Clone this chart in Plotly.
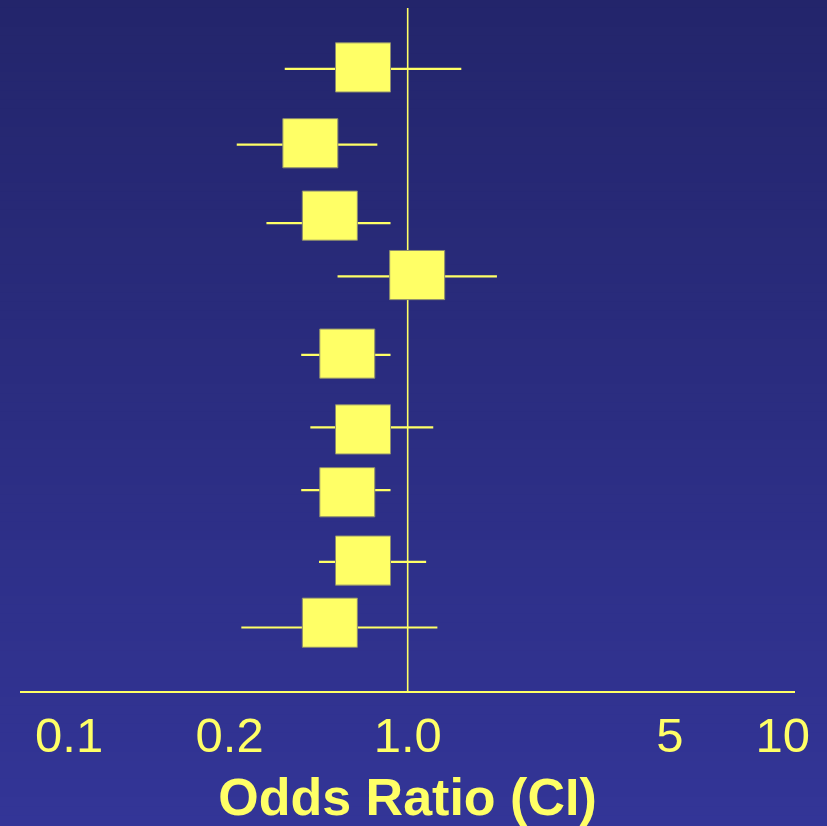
import plotly.graph_objects as go
import numpy as np

# ---- data ----
odds_ratio = [0.76, 0.55, 0.62, 1.06, 0.69, 0.76, 0.69, 0.76, 0.62]
ci_low     = [0.47, 0.35, 0.42, 0.65, 0.52, 0.55, 0.52, 0.58, 0.36]
ci_high    = [1.39, 0.83, 0.90, 1.73, 0.90, 1.17, 0.90, 1.12, 1.20]
row_y      = [9.11, 8.00, 6.85, 6.07, 4.92, 3.86, 2.94, 1.89, 0.93]   # CI line row positions
box_y      = [9.13, 8.02, 6.96, 6.09, 4.94, 3.83, 2.91, 1.91, 1.00]   # box centre row positions
tick_text  = ["0.1", "0.2", "1.0", "5", "10"]
tick_at    = [0.125, 0.335, 1.0, 5.0, 10.0]
null_value = 1.0

# ---- styles ----
YELLOW = "#FFFF66"
BOX_HALF_W = 1.184     # multiplicative half-width on log scale
BOX_HALF_H = 0.36      # half-height in row units
TOP = (35, 37, 107)
BOT = (51, 53, 151)

W, H = 827, 826
ML, MR, MT, MB = 20, 32, 8, 135
plot_h = H - MT - MB

fig = go.Figure()

# CI lines
cx, cy = [], []
for lo, hi, y in zip(ci_low, ci_high, row_y):
    cx += [lo, hi, None]
    cy += [y, y, None]
fig.add_trace(go.Scatter(x=cx, y=cy, mode="lines",
                         line=dict(color=YELLOW, width=2.2), hoverinfo="skip"))

# null line
fig.add_trace(go.Scatter(x=[null_value, null_value], y=[0, 10], mode="lines",
                         line=dict(color=YELLOW, width=1.6), hoverinfo="skip"))

# boxes
bx, by = [], []
for orv, y in zip(odds_ratio, box_y):
    x0, x1 = orv / BOX_HALF_W, orv * BOX_HALF_W
    y0, y1 = y - BOX_HALF_H, y + BOX_HALF_H
    bx += [x0, x1, x1, x0, x0, None]
    by += [y0, y0, y1, y1, y0, None]
fig.add_trace(go.Scatter(x=bx, y=by, mode="lines", fill="toself",
                         fillcolor=YELLOW, line=dict(color="#8C8C6E", width=1),
                         hoverinfo="skip"))

# background gradient stripes (paper coords extended to full figure)
n = 90
y_bot = -MB / plot_h
y_top = 1 + MT / plot_h
shapes = []
for i in range(n):
    f0 = i / n
    f1 = (i + 1) / n
    t = (f0 + f1) / 2  # 0 at top -> 1 at bottom
    c = tuple(int(round(TOP[k] + (BOT[k] - TOP[k]) * t)) for k in range(3))
    ya = y_top - (y_top - y_bot) * f0
    yb = y_top - (y_top - y_bot) * f1
    shapes.append(dict(type="rect", xref="paper", yref="paper",
                       x0=-ML / (W - ML - MR) - 0.01, x1=1 + MR / (W - ML - MR) + 0.01,
                       y0=yb - 0.002, y1=ya + 0.002,
                       fillcolor="rgb(%d,%d,%d)" % c, line=dict(width=0),
                       layer="below"))

fig.update_layout(
    width=W, height=H,
    margin=dict(l=ML, r=MR, t=MT, b=MB),
    paper_bgcolor="rgb(43,45,129)",
    plot_bgcolor="rgba(0,0,0,0)",
    showlegend=False,
    shapes=shapes,
    xaxis=dict(type="log", range=[-1.034, 1.033],
               showgrid=False, zeroline=False,
               showline=True, linecolor=YELLOW, linewidth=2,
               ticks="", tickvals=tick_at, ticktext=tick_text,
               tickfont=dict(family="Liberation Sans, Arial", size=49, color=YELLOW),
               title=dict(text="<b>Odds Ratio (CI)</b>", standoff=20,
                          font=dict(family="Liberation Sans, Arial", size=52, color=YELLOW)),
               fixedrange=True),
    yaxis=dict(range=[0, 10], visible=False, fixedrange=True),
)

fig.write_html("out.html")
